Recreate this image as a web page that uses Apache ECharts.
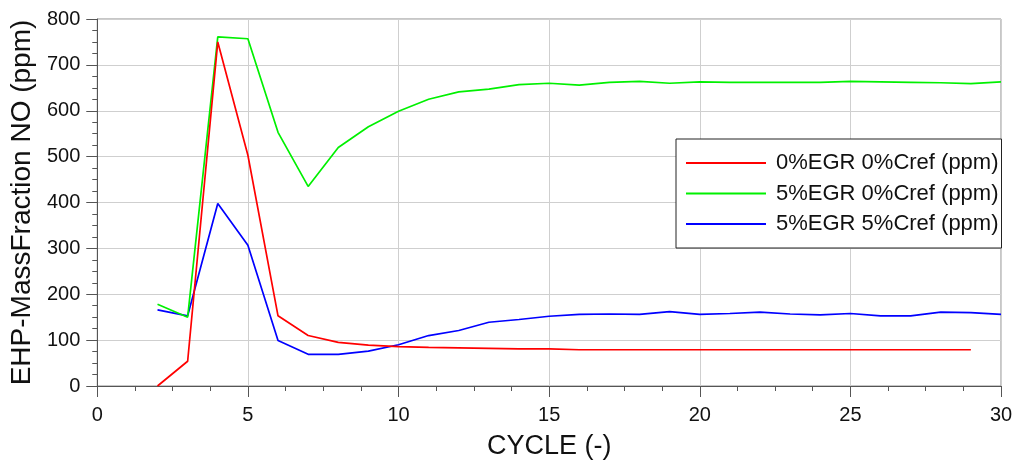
<!DOCTYPE html>
<html>
<head>
<meta charset="utf-8">
<script src="https://cdn.jsdelivr.net/npm/echarts@6/dist/echarts.min.js"></script>
<style>
  html, body { margin: 0; padding: 0; background: #fff; }
  #chart { width: 1016px; height: 465px; }
</style>
</head>
<body>
<div id="chart"></div>
<script>
// Engine cycle numbers
const cyclesRed = [2,3,4,5,6,7,8,9,10,11,12,13,14,15,16,17,18,19,20,21,22,23,24,25,26,27,28,29];
const cyclesEgr = [2,3,4,5,6,7,8,9,10,11,12,13,14,15,16,17,18,19,20,21,22,23,24,25,26,27,28,29,30];

// NO mass fraction (ppm) per case
const no_0egr_0cref = [0,54,750,503,153,110,95,89,86,84,83,82,81,81,79,79,79,79,79,79,79,79,79,79,79,79,79,79];
const no_5egr_0cref = [178,150,761,757,553,435,520,565,599,625,641,647,657,660,656,662,664,660,663,662,662,662,662,664,663,662,661,659,663];
const no_5egr_5cref = [166,153,398,307,99,69,69,76,90,110,121,139,145,152,156,157,156,162,156,158,161,157,155,158,153,153,161,160,156];

const seriesNames = ['0%EGR 0%Cref (ppm)', '5%EGR 0%Cref (ppm)', '5%EGR 5%Cref (ppm)'];
const seriesColors = ['#ff0000', '#00f000', '#0000ff'];

const xTitle = 'CYCLE (-)';
const yTitle = 'EHP-MassFraction NO (ppm)';

function pairs(xs, ys) { return xs.map((x, i) => [x, ys[i]]); }

const FONT = '"Liberation Sans", Arial, sans-serif';
const chart = echarts.init(document.getElementById('chart'), null, { renderer: 'canvas' });

const allData = [
  pairs(cyclesRed, no_0egr_0cref),
  pairs(cyclesEgr, no_5egr_0cref),
  pairs(cyclesEgr, no_5egr_5cref)
];

chart.setOption({
  animation: false,
  backgroundColor: '#ffffff',
  grid: {
    left: 93, right: 15, top: 19, bottom: 73,
    show: true, borderColor: '#8f8f8f', borderWidth: 1
  },
  legend: {
    orient: 'vertical',
    left: 676, top: 139,
    padding: [13, 3, 13, 10],
    itemGap: 8.5,
    itemWidth: 80, itemHeight: 2,
    borderColor: '#222', borderWidth: 1,
    backgroundColor: '#fff',
    textStyle: { fontFamily: FONT, fontSize: 22, color: '#111', padding: [0, 0, 0, 5] },
    data: seriesNames.map(n => ({ name: n, icon: 'rect' }))
  },
  xAxis: {
    type: 'value', min: 0, max: 30, interval: 5,
    name: xTitle, nameLocation: 'middle', nameGap: 47,
    nameTextStyle: { fontFamily: FONT, fontSize: 27, color: '#111' },
    axisLine: { show: true, lineStyle: { color: '#555', width: 1 } },
    axisTick: { show: true, inside: false, length: 11, lineStyle: { color: '#555' } },
    minorTick: { show: true, splitNumber: 4, length: 5, lineStyle: { color: '#555' } },
    axisLabel: { fontFamily: FONT, fontSize: 20, color: '#111', margin: 19 },
    splitLine: { show: true, lineStyle: { color: '#cfcfcf', width: 1 } }
  },
  yAxis: {
    type: 'value', min: 0, max: 800, interval: 100,
    name: yTitle, nameLocation: 'middle', nameGap: 54,
    nameTextStyle: { fontFamily: FONT, fontSize: 28, color: '#111' },
    axisLine: { show: true, lineStyle: { color: '#555', width: 1 } },
    axisTick: { show: true, inside: false, length: 11, lineStyle: { color: '#555' } },
    minorTick: { show: true, splitNumber: 4, length: 5, lineStyle: { color: '#555' } },
    axisLabel: { fontFamily: FONT, fontSize: 20, color: '#111', margin: 17 },
    splitLine: { show: true, lineStyle: { color: '#cfcfcf', width: 1 } }
  },
  series: seriesNames.map((name, i) => ({
    name: name,
    type: 'line',
    data: allData[i],
    showSymbol: false,
    symbol: 'none',
    color: seriesColors[i],
    lineStyle: { color: seriesColors[i], width: 1.7 },
    z: 3 - i
  }))
});
</script>
</body>
</html>
